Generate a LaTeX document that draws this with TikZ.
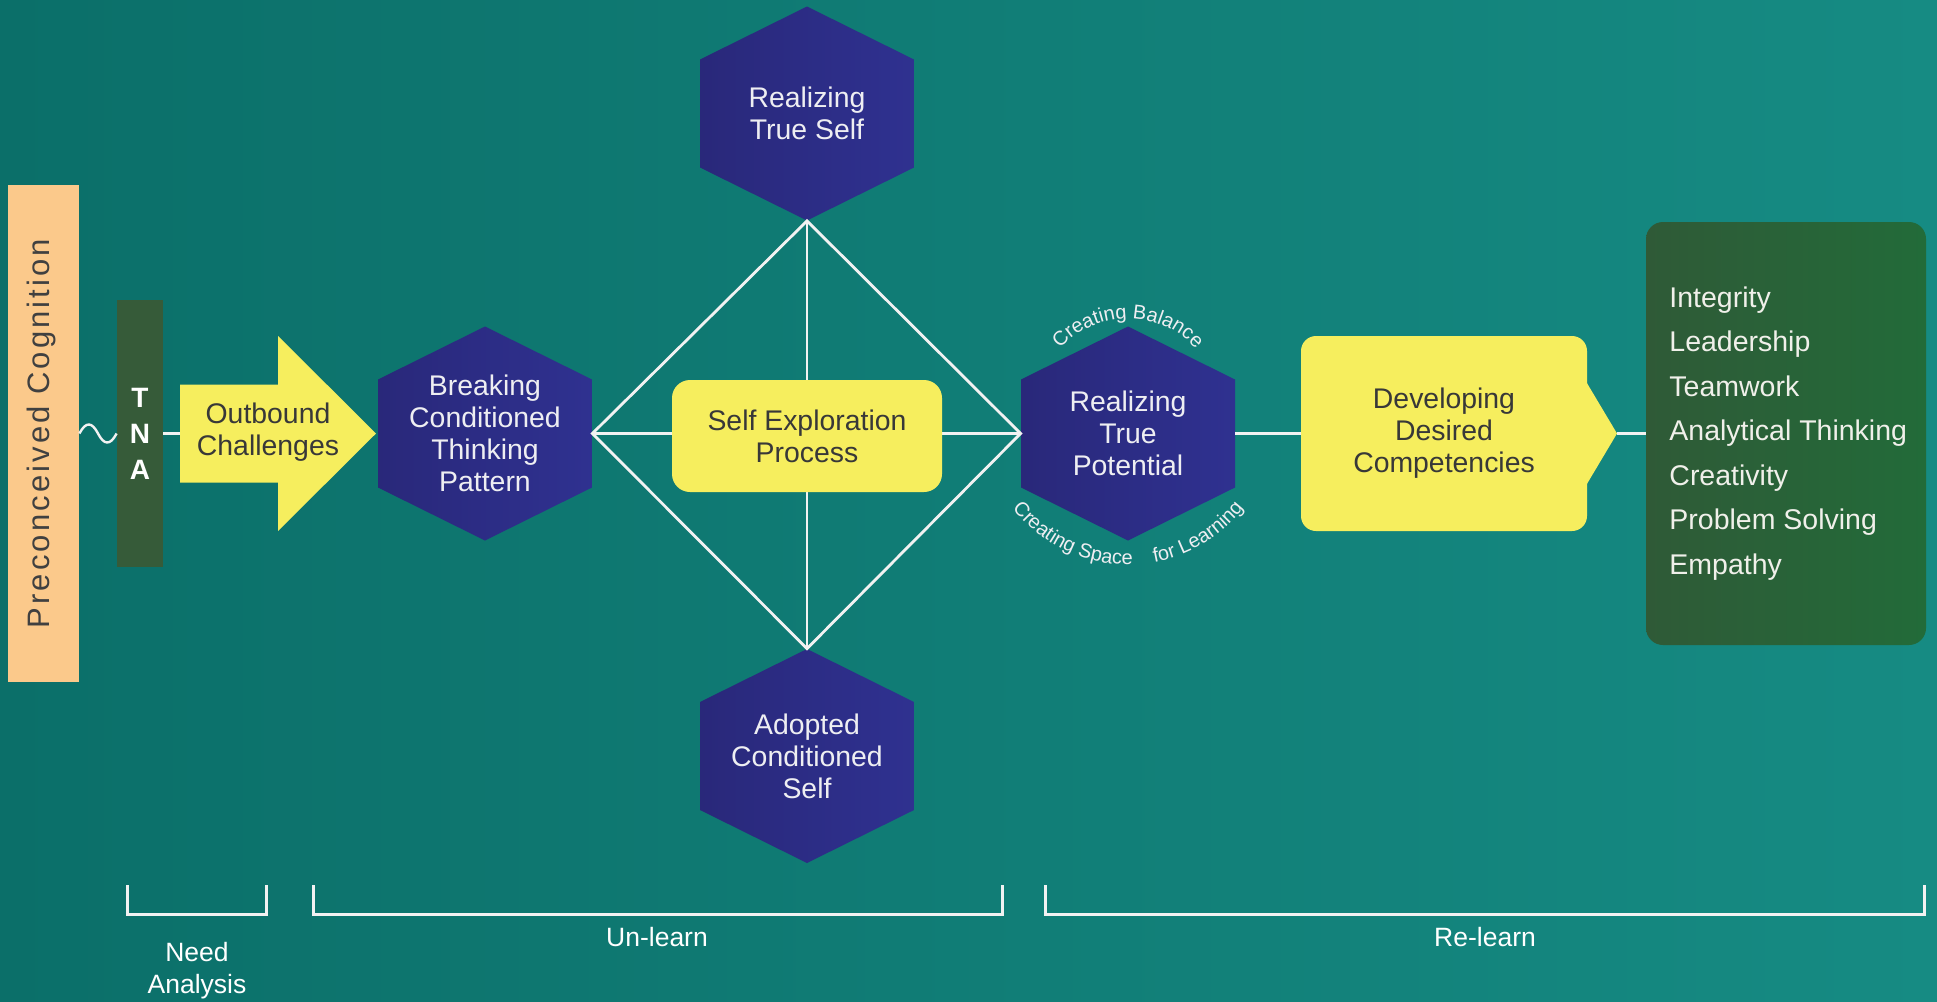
\documentclass[tikz,border=0pt]{standalone}
\usepackage{fontspec}
\setmainfont{Liberation Sans}
\newfontfamily\pcfont[LetterSpace=10]{Liberation Sans}
\usetikzlibrary{decorations.text}
\definecolor{bgL}{HTML}{0B6F69}
\definecolor{bgM}{HTML}{04796F}
\definecolor{bgR}{HTML}{168B83}
\definecolor{hexL}{HTML}{29287A}
\definecolor{hexR}{HTML}{2F3190}
\definecolor{yel}{HTML}{F6EE5E}
\definecolor{peach}{HTML}{FBC98B}
\definecolor{tnac}{HTML}{365B39}
\definecolor{lstL}{HTML}{2F5A37}
\definecolor{lstR}{HTML}{226B39}
\definecolor{darktxt}{HTML}{383838}
\definecolor{pctxt}{HTML}{404040}
\definecolor{hextxt}{HTML}{EEEEF2}
\definecolor{lsttxt}{HTML}{F0F0EA}
\definecolor{linec}{HTML}{F2F2F2}
\newcommand\fmain{\fontsize{14.2}{16}\selectfont}
\newcommand\flist{\fontsize{14.25}{22.25}\selectfont}
\newcommand\fbot{\fontsize{13.25}{16}\selectfont}
\newcommand\farc{\fontsize{10}{11}\selectfont}
\newcommand\ftna{\fontsize{14}{18}\selectfont\bfseries}
\begin{document}
\begin{tikzpicture}[x=0.5pt,y=-0.5pt,
  conn/.style={draw=linec, line width=1.4pt},
  brkt/.style={draw=linec, line width=1.5pt},
  hexnode/.style={minimum width=107pt, minimum height=107pt, inner sep=0pt, align=center, text=hextxt, font=\fmain,
    path picture={\shade[left color=hexL, right color=hexR]
      (path picture bounding box.north) -- ([yshift=27pt]path picture bounding box.east) -- ([yshift=-27pt]path picture bounding box.east) -- (path picture bounding box.south) -- ([yshift=-27pt]path picture bounding box.west) -- ([yshift=27pt]path picture bounding box.west) -- cycle;}},
  ybox/.style={fill=yel, inner sep=0pt, align=center, text=darktxt, font=\fmain},
  listbox/.style={rounded corners=8.5pt, left color=lstL, right color=lstR, minimum height=211.5pt, minimum width=140pt, inner sep=0pt},
  listtext/.style={anchor=west, inner sep=0pt, align=left, text=lsttxt, font=\flist},
  lbl/.style={font=\fbot, text=white, align=center, inner sep=0pt}]
\useasboundingbox (0,0) rectangle (1937,1001);
\shade[left color=bgL, middle color=bgM, right color=bgR] (0,0) rectangle (1937,1001);

% left part
\node[fill=peach, minimum width=35.5pt, minimum height=248.5pt, inner sep=0pt] (pre) at (43.5,433.5) {};
\node[rotate=90, text=pctxt, font=\pcfont\fontsize{15.5}{18}\selectfont, inner sep=0pt] (pct) at (41,433.5) {Preconceived Cognition};
\node[fill=tnac, minimum width=23pt, minimum height=133.5pt, inner sep=0pt, align=center, text=white, font=\ftna] (tna) at (140,433.5) {T\\N\\A};
\draw[conn, line width=1.2pt] (pre.east) .. controls (86,421) and (92,422) .. (98,433.5) .. controls (104,445) and (110,446) .. (tna.west);
\coordinate (obtail) at (180,433.5);
\draw[conn] (tna.east) -- (obtail);
\fill[yel] (obtail) ++(0,-49) -- (278,384.5) -- (278,336) -- (376,433.5) -- (278,531) -- (278,482.5) -- (180,482.5) -- cycle;
\node[font=\fmain, text=darktxt, align=center] (ob) at (268,432) {Outbound\\Challenges};

% hexagons
\node[hexnode] (brk) at (485,433.5) {Breaking\\Conditioned\\Thinking\\Pattern};
\node[hexnode] (rts) at (807,113.5) {Realizing\\True Self};
\node[hexnode] (acs) at (807,756) {Adopted\\Conditioned\\Self};
\node[hexnode] (pot) at (1128,433.5) {Realizing\\True\\Potential};

% diamond
\draw[conn] (brk.east) -- (rts.south) -- (pot.west) -- (acs.north) -- cycle;
\draw[conn] (rts.south) -- (acs.north);
\draw[conn] (brk.east) -- (pot.west);
\node[ybox, minimum width=135pt, minimum height=56pt, rounded corners=9pt] (sep) at (807,436) {Self Exploration\\Process};

% curved labels
\path[decorate, decoration={text along path, text align=center, text color=hextxt, text={|\farc|Creating Balance}}]
  ([yshift=12pt]pot.center) ++(-148:91) arc[start angle=-148, end angle=-32, radius=91];
\path[decorate, decoration={text along path, text align=center, text color=hextxt, text={|\farc|Creating Space{\kern 8pt} for Learning}}]
  ([yshift=8pt]pot.center) ++(-200:147) arc[start angle=-200, end angle=-340, radius=147];

% developing
\node[ybox, minimum width=143pt, minimum height=97.5pt, rounded corners=7.5pt] (dev) at (1444,433.5) {Developing\\Desired\\Competencies};
\coordinate (devtip) at (1617,433.5);
\fill[yel] ([xshift=-1pt,yshift=26.5pt]dev.east) -- (devtip) -- ([xshift=-1pt,yshift=-26.5pt]dev.east) -- cycle;
\draw[conn] (pot.east) -- (dev.west);

% list
\node[listbox] (lst) at (1786,433.5) {};
\node[listtext] (lsttx) at (1669,433.5) {Integrity\\Leadership\\Teamwork\\Analytical Thinking\\Creativity\\Problem Solving\\Empathy};
\draw[conn] (devtip) -- (lst.west);

% brackets
\coordinate (na1) at (127,885); \coordinate (na2) at (266,885);
\coordinate (un1) at (313,885); \coordinate (un2) at (1002,885);
\coordinate (re1) at (1045,885); \coordinate (re2) at (1924,885);
\draw[brkt] (na1) -- ++(0,29) -| (na2);
\draw[brkt] (un1) -- ++(0,29) -| (un2);
\draw[brkt] (re1) -- ++(0,29) -| (re2);
\node[lbl] (lna) at (197,971) {Need\\Analysis};
\node[lbl] (lun) at (657,937) {Un-learn};
\node[lbl] (lre) at (1485,937) {Re-learn};
\end{tikzpicture}
\end{document}
